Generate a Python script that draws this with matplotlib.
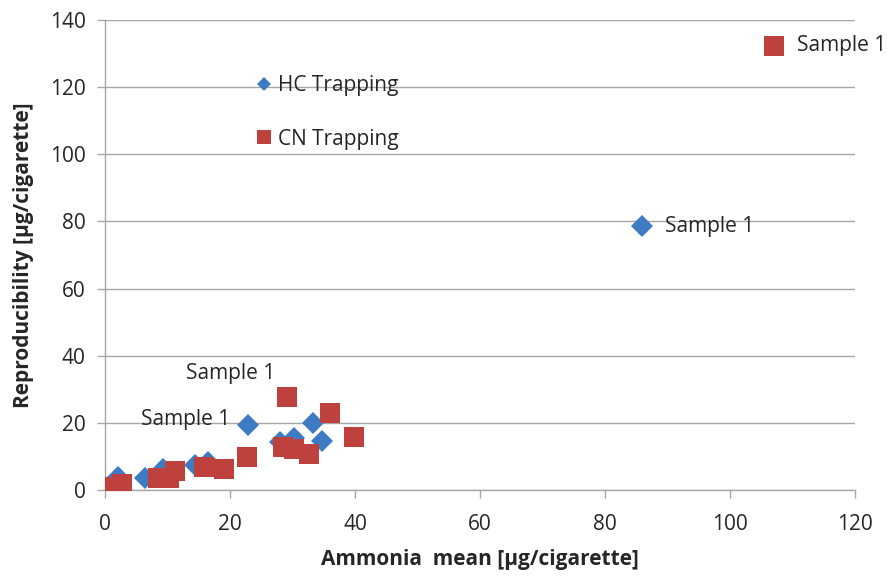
import matplotlib
matplotlib.use("Agg")
import matplotlib.pyplot as plt
from matplotlib.lines import Line2D

plt.rcParams['font.family'] = ['Open Sans', 'DejaVu Sans']

# HC Trapping (blue diamonds)
hc_x = [1.0, 2.1, 6.4, 9.3, 14.4, 16.5, 22.9, 28.0, 30.2, 33.3, 34.7, 85.9]
hc_y = [0.8, 4.0, 3.7, 6.4, 7.4, 8.4, 19.3, 14.4, 15.4, 20.0, 14.6, 78.5]
# CN Trapping (red squares)
cn_x = [1.1, 2.7, 8.5, 10.3, 11.2, 15.9, 19.0, 22.7, 28.5, 29.2, 30.3, 32.6, 36.0, 39.9, 107.0]
cn_y = [0.8, 1.8, 3.5, 3.6, 5.8, 6.8, 6.4, 9.7, 12.9, 27.8, 12.2, 10.7, 23.0, 15.9, 132.3]

x_ticks = [0, 20, 40, 60, 80, 100, 120]
y_ticks = [0, 20, 40, 60, 80, 100, 120, 140]

blue = '#3D7CC4'
red = '#BF413D'
grid_c = '#A6A6A6'
txt_c = '#262626'
fs = 15

fig = plt.figure(figsize=(8.95, 5.76), dpi=100)
ax = fig.add_axes([0.1173, 0.1493, 0.838, 0.816])

ax.plot(hc_x, hc_y, linestyle='none', marker='D', markersize=11, color=blue,
        markeredgewidth=0, zorder=3)
ax.plot(cn_x, cn_y, linestyle='none', marker='s', markersize=14, color=red,
        markeredgewidth=0, zorder=4)

ax.set_xlim(0, 120)
ax.set_ylim(0, 140)
ax.set_xticks(x_ticks)
ax.set_yticks(y_ticks)
ax.yaxis.grid(True, color=grid_c, linewidth=1)
ax.set_axisbelow(True)
for s in ['top', 'right']:
    ax.spines[s].set_visible(False)
for s in ['left', 'bottom']:
    ax.spines[s].set_color(grid_c)
    ax.spines[s].set_linewidth(1)
ax.tick_params(axis='both', colors=grid_c, labelcolor=txt_c, labelsize=fs,
               length=6, width=1, direction='out')
ax.tick_params(axis='y', pad=8)
ax.tick_params(axis='x', pad=11)

ax.set_xlabel('Ammonia  mean [\u00b5g/cigarette]', fontsize=fs, fontweight='bold',
              color=txt_c, labelpad=10)
ax.set_ylabel('Reproducibility [\u00b5g/cigarette]', fontsize=fs, fontweight='bold',
              color=txt_c, labelpad=11)

# Data labels
ax.annotate('Sample 1', (hc_x[-1], hc_y[-1]), xytext=(17, 0), textcoords='offset points',
            ha='left', va='center', fontsize=fs, color=txt_c)
ax.annotate('Sample 1', (cn_x[-1], cn_y[-1]), xytext=(17, 0), textcoords='offset points',
            ha='left', va='center', fontsize=fs, color=txt_c)
ax.annotate('Sample 1', (cn_x[9], cn_y[9]), xytext=(-9, 17), textcoords='offset points',
            ha='right', va='center', fontsize=fs, color=txt_c)
ax.annotate('Sample 1', (hc_x[6], hc_y[6]), xytext=(-13, 4), textcoords='offset points',
            ha='right', va='center', fontsize=fs, color=txt_c)

handles = [Line2D([], [], linestyle='none', marker='D', markersize=7, color=blue, markeredgewidth=0),
           Line2D([], [], linestyle='none', marker='s', markersize=10, color=red, markeredgewidth=0)]
leg = ax.legend(handles, ['HC Trapping', 'CN Trapping'], loc='upper left',
                bbox_to_anchor=(0.19, 0.9), frameon=False, fontsize=fs,
                handlelength=0.8, handletextpad=0.25, labelspacing=1.55,
                borderaxespad=0)
for t in leg.get_texts():
    t.set_color(txt_c)

fig.savefig('out.png', dpi=100)
